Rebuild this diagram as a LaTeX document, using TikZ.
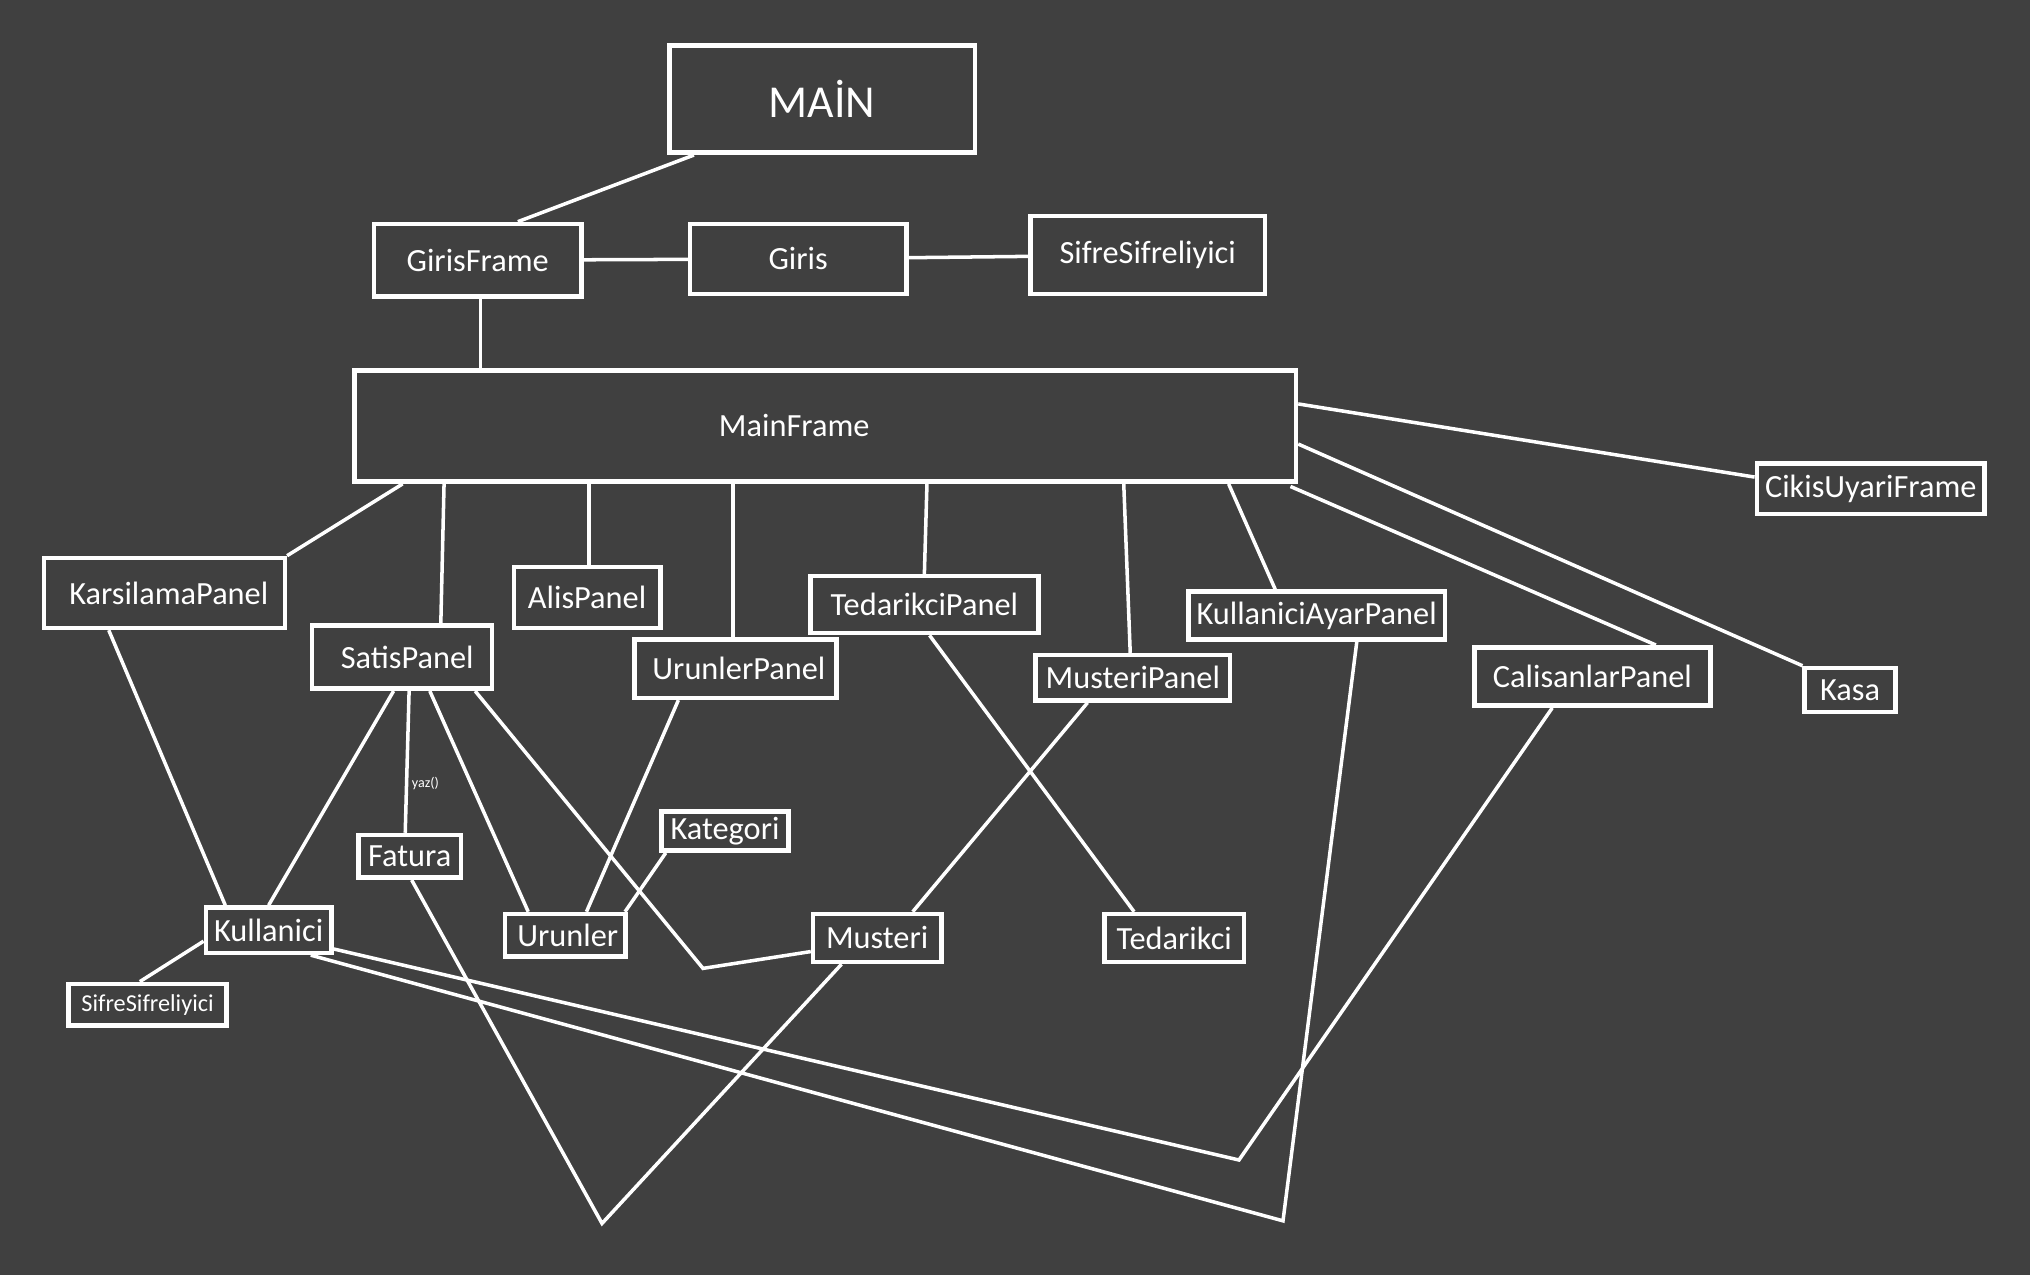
\documentclass[tikz,border=0pt]{standalone}
\usepackage{fontspec}
\setmainfont{Carlito}
\usetikzlibrary{calc}
\definecolor{bggray}{RGB}{64,64,64}
\newcommand{\pxu}{0.012946cm}

\begin{document}
\begin{tikzpicture}[x=\pxu, y=-\pxu,
    box/.style={draw=white, line width=1.3pt, text=white, inner sep=0pt,
        font=\fontsize{9.2}{10}\selectfont},
    link/.style={draw=white, line width=1pt}]
    % Background
    \fill[bggray] (0,0) rectangle (1568,985);
    \useasboundingbox (0,0) rectangle (1568,985);
    % Login part
    \node[box, minimum width=236*\pxu, minimum height=83*\pxu, font=\fontsize{13}{15}\selectfont] (main) at (635,76.5) {MAİN};
    \node[box, minimum width=160*\pxu, minimum height=56*\pxu] (girisframe) at (369,201) {GirisFrame};
    \node[box, minimum width=167*\pxu, minimum height=54*\pxu] (giris) at (616.5,200) {Giris};
    \node[box, minimum width=181*\pxu, minimum height=60*\pxu] (sifretop) at (886.5,197) {SifreSifreliyici};
    \node[box, minimum width=727*\pxu, minimum height=86*\pxu] (mainframe) at (637.5,329) {MainFrame\hspace*{17.7pt}};
    % Panels
    \node[box, minimum width=176*\pxu, minimum height=39*\pxu] (cikis) at (1445,377.5) {CikisUyariFrame};
    \node[box, minimum width=186*\pxu, minimum height=54*\pxu] (karsilama) at (127,458) {\hspace*{2.5pt}KarsilamaPanel};
    \node[box, minimum width=113*\pxu, minimum height=47*\pxu] (alis) at (453.5,461.5) {AlisPanel};
    \node[box, minimum width=139*\pxu, minimum height=49*\pxu] (satis) at (310.5,507.5) {\hspace*{3pt}SatisPanel};
    \node[box, minimum width=176*\pxu, minimum height=44*\pxu] (tedarikcipanel) at (714,467) {TedarikciPanel};
    \node[box, minimum width=156*\pxu, minimum height=45*\pxu] (urunlerpanel) at (568,516.5) {\hspace*{2pt}UrunlerPanel};
    \node[box, minimum width=198*\pxu, minimum height=37*\pxu] (kayar) at (1017,475.5) {KullaniciAyarPanel};
    \node[box, minimum width=150*\pxu, minimum height=35*\pxu] (musteripanel) at (875,523.5) {MusteriPanel};
    \node[box, minimum width=182*\pxu, minimum height=45*\pxu] (calisanlar) at (1230,522.5) {CalisanlarPanel};
    \node[box, minimum width=70*\pxu, minimum height=34*\pxu] (kasa) at (1429,533) {Kasa};
    % Classes
    \node[box, minimum width=98*\pxu, minimum height=30*\pxu] (kategori) at (560,642) {Kategori};
    \node[box, minimum width=79*\pxu, minimum height=33*\pxu] (fatura) at (316.5,661.5) {Fatura};
    \node[box, minimum width=97*\pxu, minimum height=35*\pxu] (kullanici) at (207.5,718.5) {Kullanici};
    \node[box, minimum width=93*\pxu, minimum height=33*\pxu] (urunler) at (436.5,722.5) {\hspace*{1.5pt}Urunler};
    \node[box, minimum width=99*\pxu, minimum height=37*\pxu] (musteri) at (677.5,724.5) {Musteri};
    \node[box, minimum width=108*\pxu, minimum height=37*\pxu] (tedarikci) at (907,724.5) {Tedarikci};
    \node[box, minimum width=122*\pxu, minimum height=32*\pxu, font=\fontsize{6.9}{8}\selectfont] (sifrebottom) at (114,776) {SifreSifreliyici};
    % Bends of the long connectors
    \coordinate (bendmusteri) at (543,748);
    \coordinate (bendfatura) at (465,945);
    \coordinate (bendcalisan) at (957,896);
    \coordinate (bendayar) at (991,943);

    % Top connectors
    \draw[link] ($(main.south)+(-99,0)$) -- ($(girisframe.north)+(31,0)$);
    \draw[link] (girisframe) -- (giris);
    \draw[link] (giris) -- (sifretop);
    \draw[link] ($(girisframe.south)+(2,0)$) -- ($(girisframe.south |- mainframe.north)+(2,0)$);
    % MainFrame to panels
    \draw[link] ($(mainframe.east)+(0,-17)$) -- ($(cikis.west)+(0,-9)$);
    \draw[link] ($(mainframe.east)+(0,14)$) -- (kasa.north west);
    \draw[link] ($(mainframe.south east)+(-6,2)$) -- ($(calisanlar.north)+(49,0)$);
    \draw[link] ($(mainframe.south)+(311.5,0)$) -- ($(kayar.north)+(-32,0)$);
    \draw[link] ($(mainframe.south)+(230.5,0)$) -- ($(musteripanel.north)+(-2,0)$);
    \draw[link] ($(mainframe.south)+(78.5,0)$) -- (tedarikcipanel.north);
    \draw[link] ($(urunlerpanel.north)+(-2,0)$) -- ($(urunlerpanel.north |- mainframe.south)+(-2,0)$);
    \draw[link] ($(alis.north)+(1.5,0)$) -- ($(alis.north |- mainframe.south)+(1.5,0)$);
    \draw[link] ($(mainframe.south)+(-294.5,0)$) -- ($(satis.north)+(30,0)$);
    \draw[link] ($(mainframe.south)+(-326.5,0)$) -- (karsilama.north east);
    % Panels to classes
    \draw[link] ($(karsilama.south)+(-43,0)$) -- ($(kullanici.north)+(-33.5,0)$);
    \draw[link] ($(satis.south)+(-6.5,0)$) -- (kullanici.north);
    \draw[link] ($(satis.south)+(5.5,0)$) -- node[pos=0.65, right, inner sep=1pt, text=white, font=\fontsize{4}{5}\selectfont] (yaz) {yaz()} ($(fatura.north)+(-3.5,0)$);
    \draw[link] ($(satis.south)+(21.5,0)$) -- ($(urunler.north)+(-28.5,0)$);
    \draw[link] ($(satis.south)+(56.5,0)$) -- (bendmusteri) -- ($(musteri.west)+(0,10.5)$);
    \draw[link] ($(urunlerpanel.south)+(-44,0)$) -- ($(urunler.north)+(16.5,0)$);
    \draw[link] ($(kategori.south west)+(5,0)$) -- ($(urunler.north east)+(-2,0)$);
    \draw[link] ($(tedarikcipanel.south)+(4,0)$) -- ($(tedarikci.north)+(-31,0)$);
    \draw[link] ($(musteripanel.south)+(-35,0)$) -- ($(musteri.north)+(27.5,0)$);
    % Long connectors
    \draw[link] ($(fatura.south)+(1.5,0)$) -- (bendfatura) -- ($(musteri.south)+(-27.5,0)$);
    \draw[link] ($(kullanici.east)+(0,14.5)$) -- (bendcalisan) -- ($(calisanlar.south)+(-31,0)$);
    \draw[link] ($(kullanici.south)+(32.5,0)$) -- (bendayar) -- ($(kayar.south)+(31,0)$);
    \draw[link] ($(kullanici.west)+(0,8.5)$) -- ($(sifrebottom.north)+(-6,0)$);
\end{tikzpicture}
\end{document}
